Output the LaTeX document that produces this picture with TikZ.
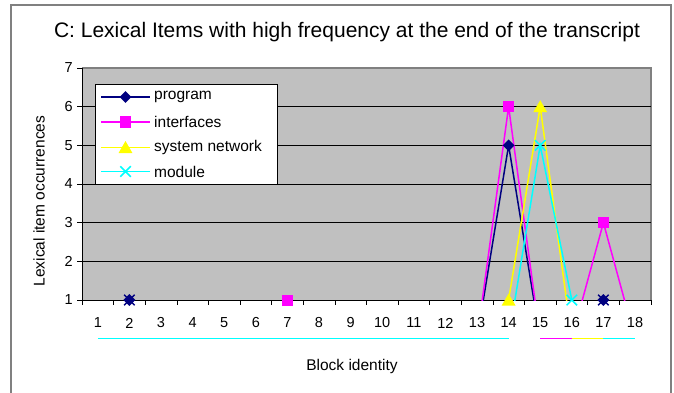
\documentclass[tikz,border=0pt]{standalone}
\usepackage{fontspec}
\setmainfont{Liberation Sans}
\usetikzlibrary{shapes.geometric,shapes.misc}

\definecolor{plotgray}{HTML}{C0C0C0}
\definecolor{framegray}{HTML}{808080}
\definecolor{prognavy}{HTML}{000080}
\definecolor{ifpink}{HTML}{FF00FF}
\definecolor{sysyellow}{HTML}{FFFF00}
\definecolor{modcyan}{HTML}{00FFFF}

\tikzset{
  plotarea/.style={shift={(82,300)}, x=31.6pt, y=38.667pt},
  series/.style={line width=1.5pt},
  progmark/.style={diamond, fill=prognavy, inner sep=0pt, minimum size=12pt},
  progfeet/.style={cross out, draw=prognavy, line width=1.5pt, inner sep=0pt, minimum size=9pt},
  ifmark/.style={rectangle, fill=ifpink, inner sep=0pt, minimum size=11pt},
  sysmark/.style={regular polygon, regular polygon sides=3, fill=sysyellow, inner sep=0pt, minimum size=16pt, yshift=-1.5pt},
  modmark/.style={cross out, draw=modcyan, line width=1.5pt, inner sep=0pt, minimum size=9pt},
  ticklabel/.style={font=\fontsize{14.5}{17}\selectfont, inner sep=0pt},
  axistitle/.style={font=\fontsize{15.5}{18}\selectfont},
  legendtext/.style={font=\fontsize{15.5}{18}\selectfont, anchor=west, inner sep=0pt},
}

\begin{document}
\begin{tikzpicture}[x=1pt,y=-1pt]
\useasboundingbox (0,0) rectangle (674,393);

% outer frame
\draw[framegray, line width=2pt] (11,393) -- (11,5) -- (671,5) -- (671,393);

\node[font=\fontsize{21}{25}\selectfont] (title) at (347,32) {C: Lexical Items with high frequency at the end of the transcript};
\node[axistitle, rotate=90] (ytitle) at (39,201) {Lexical item occurrences};
\node[axistitle] (xtitle) at (352,366) {Block identity};

% plot background and grid
\begin{scope}[plotarea]
\fill[plotgray] (0,0) rectangle (18,6);
\draw[framegray, line width=1.5pt] (0,6) -- (18,6) -- (18,0);
\foreach \v in {1,...,5}
  \draw[black] (0,\v) -- (18,\v);
\end{scope}

% legend
\draw[black, fill=white] (95,84) rectangle (277,184);
\draw[prognavy, series] (101,97) -- (150,97);
\node[progmark] (legprogmark) at (125.5,97) {};
\node[legendtext] (legprog) at (154,97) {program};
\draw[ifpink, series] (101,122) -- (150,122);
\node[ifmark] (legifmark) at (125.5,122) {};
\node[legendtext] (legif) at (154,122) {interfaces};
\draw[sysyellow, series] (101,147.5) -- (150,147.5);
\node[sysmark] (legsysmark) at (125.5,147.5) {};
\node[legendtext] (legsys) at (154,147.5) {system network};
\draw[modcyan, series] (101,171.5) -- (150,171.5);
\node[modmark] (legmodmark) at (125.5,171.5) {};
\node[legendtext] (legmod) at (154,171.5) {module};

\begin{scope}[plotarea]
% axes and ticks
\draw[black, line width=1pt] (0,6) -- (0,0) -- (18,0);
\foreach \v [evaluate=\v as \n using int(\v+1)] in {0,...,6} {
  \draw[black] (0,\v) -- ++(-5pt,0);
  \node[ticklabel, anchor=east] (ylab\n) at ([xshift=-9pt]0,\v) {\n};
}
\foreach \c in {0,...,18}
  \draw[black] (\c,0) -- ++(0,-5pt);
\foreach \c in {1,...,18}
  \node[ticklabel] (xlab\c) at ([yshift=-23pt]\c-0.5,0) {\c};

% series, cut at the axis
\begin{scope}
\clip (0,0) rectangle (18,6);
\draw[prognavy, series] (12.5,-1) -- (13.5,4) -- (14.5,-1);
\draw[ifpink, series] (12.5,-1) -- (13.5,5) -- (14.5,-1);
\draw[ifpink, series] (15.5,-1) -- (16.5,2) -- (17.5,-1);
\draw[sysyellow, series] (13.5,0) -- (14.5,5) -- (15.5,-1);
\draw[modcyan, series] (13.5,-1) -- (14.5,4) -- (15.5,0);
\end{scope}

% zero values below the labels
\draw[modcyan, series] (0.5,-1) -- (13.5,-1);
\draw[ifpink, series] (14.5,-1) -- (15.5,-1);
\draw[sysyellow, series] (15.5,-1) -- (16.5,-1);
\draw[modcyan, series] (16.5,-1) -- (17.5,-1);

% markers
\node[progfeet] (prog2x) at (1.5,0) {};
\node[progmark] (prog2) at (1.5,0) {};
\node[progmark] (prog14) at (13.5,4) {};
\node[progfeet] (prog17x) at (16.5,0) {};
\node[progmark] (prog17) at (16.5,0) {};
\node[ifmark] (if7) at (6.5,0) {};
\node[ifmark] (if14) at (13.5,5) {};
\node[ifmark] (if17) at (16.5,2) {};
\node[sysmark] (sys14) at (13.5,0) {};
\node[sysmark] (sys15) at (14.5,5) {};
\node[modmark] (mod15) at (14.5,4) {};
\node[modmark] (mod16) at (15.5,0) {};
\end{scope}

\end{tikzpicture}
\end{document}
